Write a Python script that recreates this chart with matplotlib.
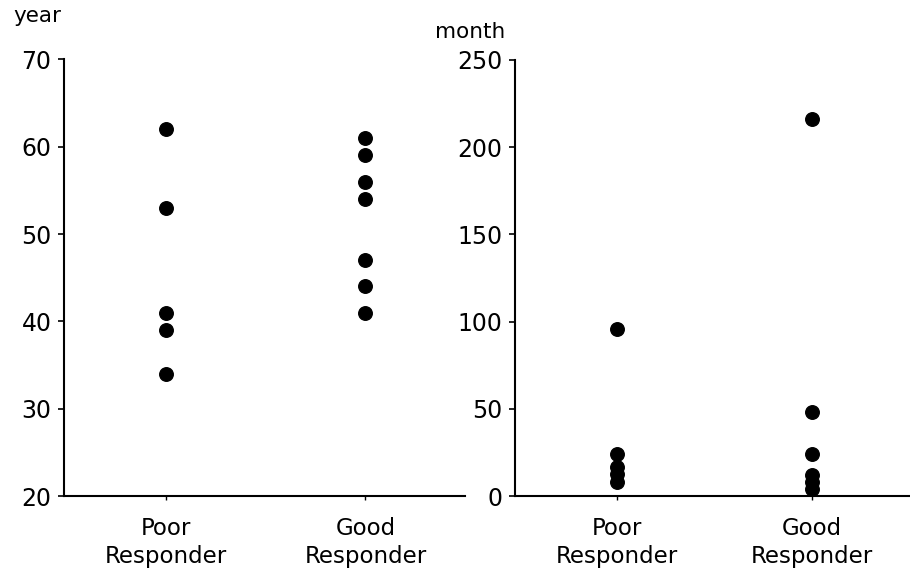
import numpy as np
import matplotlib.pyplot as plt

plt.rcParams['font.family'] = ['DejaVu Sans']

groups = ["Poor\nResponder", "Good\nResponder"]

# age (year)
age_poor = [62, 53, 41, 39, 34]
age_good = [61, 59, 56, 54, 47, 44, 41]

# duration (month)
dur_poor = [96, 24, 17, 13, 8]
dur_good = [216, 48, 24, 12, 8, 4]

fig = plt.figure(figsize=(9.1, 5.75), dpi=100)
ax1 = fig.add_axes([0.0703, 0.137, 0.441, 0.760])
ax2 = fig.add_axes([0.566, 0.137, 0.434, 0.759])


def style(ax, ylim, yticks, xl):
    for s in ['top', 'right']:
        ax.spines[s].set_visible(False)
    ax.spines['left'].set_linewidth(1.5)
    ax.spines['bottom'].set_linewidth(1.5)
    ax.set_ylim(*ylim)
    ax.set_yticks(yticks)
    ax.set_xlim(*xl)
    ax.set_xticks([0, 1])
    ax.set_xticklabels(groups, fontsize=16.5, linespacing=1.25)
    ax.tick_params(axis='y', labelsize=17, length=4, width=1.2, pad=5)
    ax.tick_params(axis='x', length=3, width=1, pad=12)


for i, vals in enumerate([age_poor, age_good]):
    ax1.scatter([i] * len(vals), vals, s=95, color='black', zorder=3, clip_on=False)
for i, vals in enumerate([dur_poor, dur_good]):
    ax2.scatter([i] * len(vals), vals, s=95, color='black', zorder=3, clip_on=False)

style(ax1, (20, 70), np.arange(20, 71, 10), (-0.51, 1.5))
style(ax2, (0, 250), np.arange(0, 251, 50), (-0.52, 1.5))

fig.text(0.015, 0.972, 'year', fontsize=15.5, va='center')
fig.text(0.478, 0.945, 'month', fontsize=15.5, va='center')

fig.savefig('out.png', dpi=100)
